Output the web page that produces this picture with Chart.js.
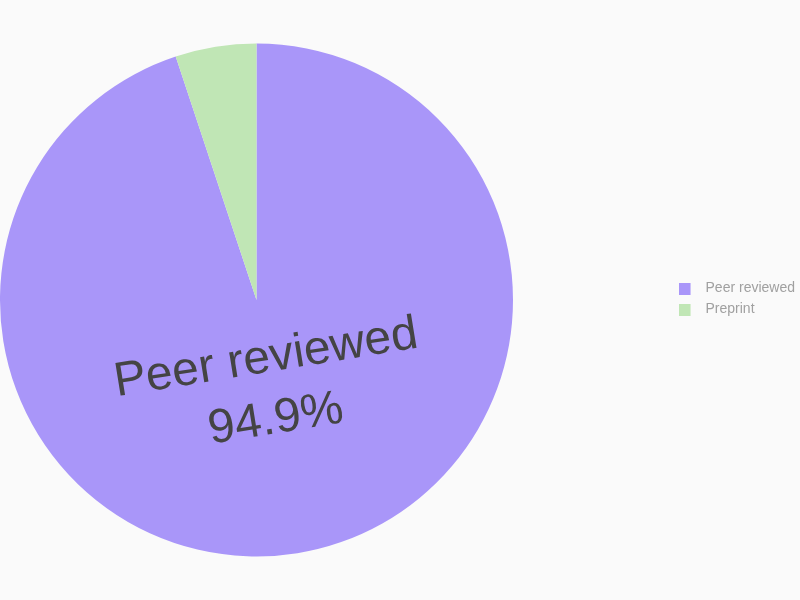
<!DOCTYPE html>
<html>
<head>
<meta charset="utf-8">
<script src="https://cdn.jsdelivr.net/npm/chart.js@4/dist/chart.umd.min.js"></script>
<style>
  html, body { margin: 0; padding: 0; background: #fafafa; }
  #wrap { width: 800px; height: 600px; }
</style>
</head>
<body>
<div id="wrap"><canvas id="c" width="800" height="600"></canvas></div>
<script>
const categories = ['Peer reviewed', 'Preprint'];
const shares = [94.9, 5.1];
const sliceColors = ['#a996f9', '#c0e6b5'];

function swatch(color) {
  const cv = document.createElement('canvas');
  cv.width = 20; cv.height = 12;
  const g = cv.getContext('2d');
  g.fillStyle = color;
  g.fillRect(0, 0, 12, 12);
  return cv;
}
const swatches = sliceColors.map(swatch);

// Pie sits at the left of the plot area; legend hugs the right edge.
const layoutTweak = {
  id: 'layoutTweak',
  afterLayout(chart) {
    const a = chart.chartArea;
    const size = Math.min(a.width, a.height);
    a.right = a.left + size;
    a.width = size;
    const lg = chart.legend;
    if (lg) {
      lg.left += 9; lg.right += 9;
      lg.top -= 1; lg.bottom -= 1;
    }
  }
};

const sliceLabels = {
  id: 'sliceLabels',
  afterDatasetsDraw(chart) {
    const meta = chart.getDatasetMeta(0);
    const ctx = chart.ctx;
    meta.data.forEach((arc, i) => {
      const share = shares[i];
      if (share < 10) return;
      const p = arc.getProps(['startAngle', 'endAngle', 'x', 'y', 'outerRadius'], true);
      const mid = (p.startAngle + p.endAngle) / 2;
      const d = p.outerRadius * 0.337;
      ctx.save();
      ctx.translate(p.x + Math.cos(mid) * d, p.y + Math.sin(mid) * d);
      ctx.rotate(mid - Math.PI / 2);
      ctx.font = '48px "Liberation Sans", Arial, sans-serif';
      ctx.fillStyle = '#444444';
      ctx.textAlign = 'center';
      ctx.textBaseline = 'alphabetic';
      ctx.fillText(categories[i], 0, -13.7);
      ctx.fillText(share.toFixed(1) + '%', 0, 48.1);
      ctx.restore();
    });
  }
};

new Chart(document.getElementById('c'), {
  type: 'pie',
  data: {
    labels: categories,
    datasets: [{
      data: shares,
      backgroundColor: sliceColors,
      borderWidth: 0,
      hoverOffset: 0
    }]
  },
  options: {
    responsive: false,
    animation: false,
    layout: { padding: { left: 0, right: 4, top: 43.5, bottom: 43.5 } },
    plugins: {
      tooltip: { enabled: true },
      legend: {
        position: 'right',
        labels: {
          usePointStyle: true,
          pointStyleWidth: 20,
          padding: 7,
          color: '#a0a0a0',
          font: { size: 14, family: '"Liberation Sans", Arial, sans-serif' },
          generateLabels(chart) {
            const items = Chart.overrides.pie.plugins.legend.labels.generateLabels(chart);
            items.forEach((it, i) => { it.pointStyle = swatches[i]; });
            return items;
          }
        }
      }
    }
  },
  plugins: [layoutTweak, sliceLabels]
});
</script>
</body>
</html>
